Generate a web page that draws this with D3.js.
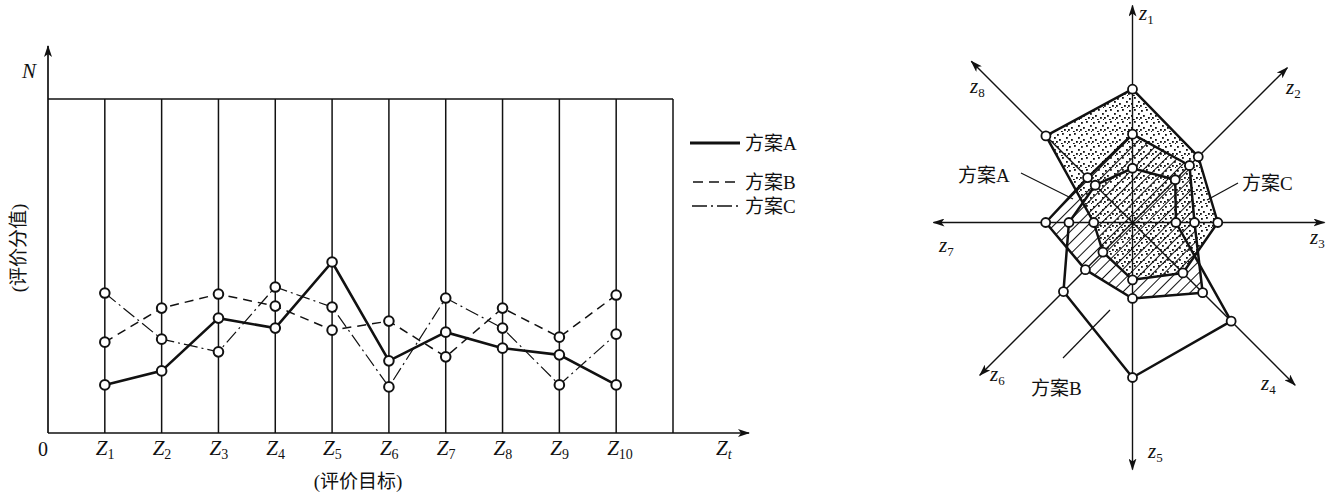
<!DOCTYPE html>
<html><head><meta charset="utf-8">
<script src="https://cdn.jsdelivr.net/npm/d3@7"></script>
<style>
html,body{margin:0;padding:0;background:#fff;}
svg{display:block;}
</style></head>
<body>
<svg id="chart" width="1336" height="498"></svg>
<script>
// ---------- DATA ----------
const targets = ["1","2","3","4","5","6","7","8","9","10"]; // Z subscripts
const seriesNames = ["方案A","方案B","方案C"];
const lineA = [1.44, 1.86, 3.44, 3.14, 5.12, 2.16, 3.02, 2.54, 2.34, 1.44];
const lineB = [2.72, 3.74, 4.16, 3.80, 3.08, 3.35, 2.28, 3.74, 2.87, 4.13];
const lineC = [4.19, 2.81, 2.43, 4.37, 3.77, 1.38, 4.04, 3.14, 1.44, 2.96];

const radarAxes = ["1","2","3","4","5","6","7","8"]; // z subscripts
const radarA = [57, 52, 40, 64, 49, 43, 56, 41];
const radarB = [35, 39, 28, 90, 100, 63, 41, 34];
const radarC = [86, 60, 55, 46, 37, 27, 25, 79];

// ---------- LAYOUT ----------
const svg = d3.select("#chart");
const serif = "'Liberation Serif','Noto Sans CJK SC',serif";
const ink = "#111";

const defs = svg.append("defs");
defs.append("marker").attr("id","arr").attr("viewBox","0 0 12 8")
  .attr("refX",11).attr("refY",4).attr("markerWidth",12).attr("markerHeight",8)
  .attr("markerUnits","userSpaceOnUse").attr("orient","auto")
  .append("path").attr("d","M0,0 L12,4 L0,8 L3,4 Z").attr("fill",ink);

// dotted pattern
const dp = defs.append("pattern").attr("id","dots").attr("patternUnits","userSpaceOnUse")
  .attr("width",12).attr("height",12);
[[1,2],[6,1],[10,5],[3,7],[8,9],[11,11],[5,11],[0,9]].forEach(p=>{
  dp.append("rect").attr("x",p[0]).attr("y",p[1]).attr("width",1.8).attr("height",1.8).attr("fill",ink);
});
// hatch pattern
const hp = defs.append("pattern").attr("id","hatch").attr("patternUnits","userSpaceOnUse")
  .attr("width",8).attr("height",8).attr("patternTransform","rotate(45)");
hp.append("line").attr("x1",0).attr("y1",0).attr("x2",0).attr("y2",8)
  .attr("stroke",ink).attr("stroke-width",2);

// ---------- LEFT LINE CHART ----------
const x = d3.scaleLinear().domain([0, 11]).range([48, 673]);
const y = d3.scaleLinear().domain([0, 10]).range([433, 99]);
const g = svg.append("g");

d3.range(1, 12).forEach(i=>{
  g.append("line").attr("x1",x(i)).attr("x2",x(i)).attr("y1",y(0)).attr("y2",y(10))
   .attr("stroke",ink).attr("stroke-width",1.5);
});
g.append("line").attr("x1",x(0)).attr("x2",x(11)).attr("y1",y(10)).attr("y2",y(10))
  .attr("stroke",ink).attr("stroke-width",1.6);
g.append("line").attr("x1",x(0)).attr("x2",x(0)).attr("y1",y(0)).attr("y2",46)
  .attr("stroke",ink).attr("stroke-width",1.7).attr("marker-end","url(#arr)");
g.append("line").attr("x1",x(0)).attr("x2",749).attr("y1",y(0)).attr("y2",y(0))
  .attr("stroke",ink).attr("stroke-width",1.7).attr("marker-end","url(#arr)");

const lineGen = d3.line().x((d,i)=>x(i+1)).y(d=>y(d));
const styles = [
  {data: lineA, w: 2.6, dash: null},
  {data: lineB, w: 1.5, dash: "9,6"},
  {data: lineC, w: 1.2, dash: "14,4,2,4"}
];
styles.forEach(s=>{
  g.append("path").datum(s.data).attr("d",lineGen).attr("fill","none")
   .attr("stroke",ink).attr("stroke-width",s.w).attr("stroke-dasharray",s.dash);
});
styles.forEach(s=>{
  g.selectAll(null).data(s.data).enter().append("circle")
   .attr("cx",(d,i)=>x(i+1)).attr("cy",d=>y(d)).attr("r",4.8)
   .attr("fill","#fff").attr("stroke",ink).attr("stroke-width",2);
});

targets.forEach((t,i)=>{
  const tx = g.append("text").attr("x",x(i+1)-9).attr("y",455)
    .attr("font-family",serif).attr("font-size",21).attr("fill",ink);
  tx.append("tspan").attr("font-style","italic").text("Z");
  tx.append("tspan").attr("font-size",14).attr("dy",4).text(t);
});
g.append("text").attr("x",38).attr("y",456).attr("font-family",serif).attr("font-size",20).attr("fill",ink).text("0");
const zt = g.append("text").attr("x",716).attr("y",455).attr("font-family",serif).attr("font-size",21).attr("fill",ink);
zt.append("tspan").attr("font-style","italic").text("Z");
zt.append("tspan").attr("font-size",14).attr("dy",4).attr("font-style","italic").text("t");
g.append("text").attr("x",22).attr("y",78).attr("font-family",serif).attr("font-size",21)
  .attr("font-style","italic").attr("fill",ink).text("N");
g.append("text").attr("x",358).attr("y",488).attr("text-anchor","middle")
  .attr("font-family",serif).attr("font-size",19).attr("fill",ink).text("(评价目标)");
g.append("text").attr("transform","translate(25,248) rotate(-90)").attr("text-anchor","middle")
  .attr("font-family",serif).attr("font-size",19).attr("fill",ink).text("(评价分值)");

// legend
const legY = [143, 182, 206];
const legX = [[690,740],[693,738],[692,740]];
styles.forEach((s,i)=>{
  g.append("line").attr("x1",legX[i][0]).attr("x2",legX[i][1]).attr("y1",legY[i]).attr("y2",legY[i])
   .attr("stroke",ink).attr("stroke-width",i===0?2.8:1.5).attr("stroke-dasharray",i===0?null:(i===1?"10,6":"15,4,2,4"));
  g.append("text").attr("x",745).attr("y",legY[i]+7).attr("font-family",serif)
   .attr("font-size",19).attr("fill",ink).text(seriesNames[i]);
});

// ---------- RADAR ----------
const cx = 1132.5, cy = 222.5;
const r = d3.scaleLinear().domain([0, 100]).range([0, 155]);
const axisLen = [217, 219, 192, 230, 247, 216, 199, 228];
const ang = i => (-90 + 45*i) * Math.PI/180;
const pt = (v,i) => [cx + r(v)*Math.cos(ang(i)), cy + r(v)*Math.sin(ang(i))];
const rg = svg.append("g");

const poly = vals => "M" + vals.map((v,i)=>pt(v,i).join(",")).join("L") + "Z";
rg.append("path").attr("d",poly(radarC)).attr("fill","url(#dots)");
rg.append("path").attr("d",poly(radarA)).attr("fill","url(#hatch)");

radarAxes.forEach((a,i)=>{
  const L = axisLen[i];
  rg.append("line").attr("x1",cx).attr("y1",cy)
   .attr("x2",cx+L*Math.cos(ang(i))).attr("y2",cy+L*Math.sin(ang(i)))
   .attr("stroke",ink).attr("stroke-width",1.4).attr("marker-end","url(#arr)");
});

[radarC, radarA, radarB].forEach(vals=>{
  rg.append("path").attr("d",poly(vals)).attr("fill","none").attr("stroke",ink)
    .attr("stroke-width",2.5).attr("stroke-linejoin","round");
});
[radarC, radarA, radarB].forEach(vals=>{
  rg.selectAll(null).data(vals).enter().append("circle")
    .attr("cx",(d,i)=>pt(d,i)[0]).attr("cy",(d,i)=>pt(d,i)[1]).attr("r",4.5)
    .attr("fill","#fff").attr("stroke",ink).attr("stroke-width",1.8);
});

const labPos = [[1139,20],[1286,94],[1310,244],[1261,390],[1148,458],[990,381],[939,252],[970,93]];
radarAxes.forEach((a,i)=>{
  const t = rg.append("text").attr("x",labPos[i][0]).attr("y",labPos[i][1])
    .attr("font-family",serif).attr("font-size",21).attr("fill",ink);
  t.append("tspan").attr("font-style","italic").text("z");
  t.append("tspan").attr("font-size",13).attr("dy",4).text(a);
});

const leaders = [
  {name: seriesNames[0], tx: 958, ty: 182, l: [1021,173,1073,199]},
  {name: seriesNames[1], tx: 1031, ty: 395, l: [1063,358,1110,310]},
  {name: seriesNames[2], tx: 1242, ty: 190, l: [1238,183,1207,200]}
];
leaders.forEach(d=>{
  rg.append("line").attr("x1",d.l[0]).attr("y1",d.l[1]).attr("x2",d.l[2]).attr("y2",d.l[3])
    .attr("stroke",ink).attr("stroke-width",1.2);
  rg.append("text").attr("x",d.tx).attr("y",d.ty).attr("font-family",serif)
    .attr("font-size",19).attr("fill",ink).text(d.name);
});
</script>
</body></html>
